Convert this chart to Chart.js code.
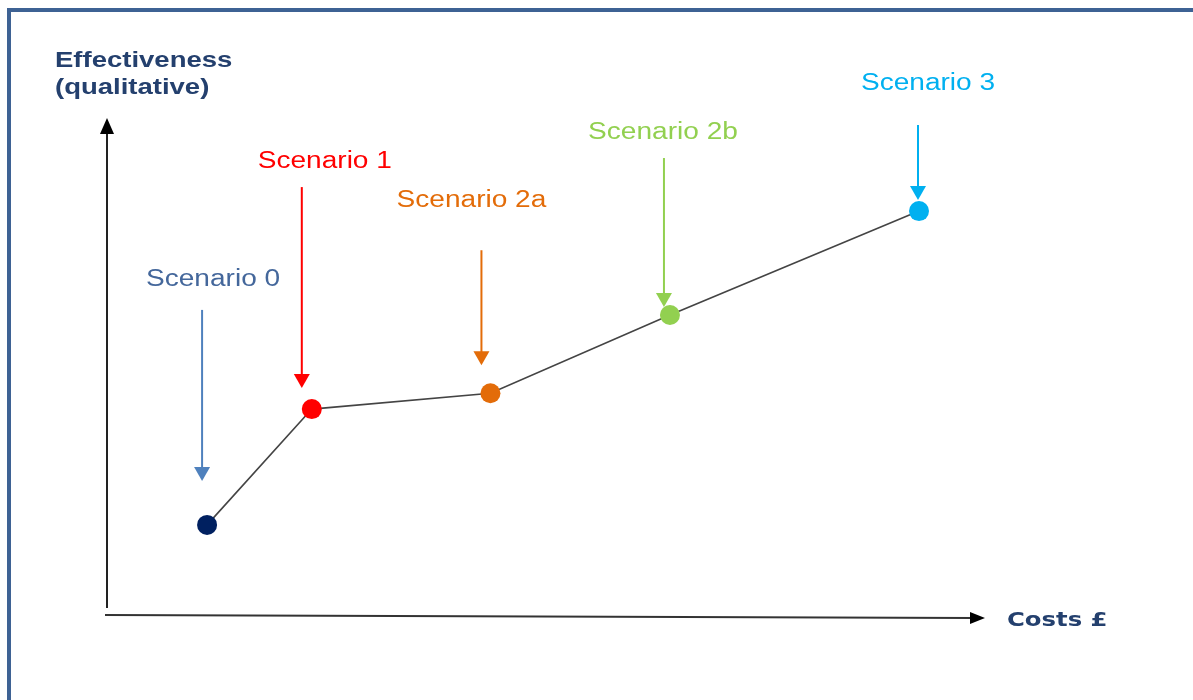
<!DOCTYPE html>
<html>
<head>
<meta charset="utf-8">
<title>Scenarios: effectiveness vs costs</title>
<script src="https://cdn.jsdelivr.net/npm/chart.js@4.4.0/dist/chart.umd.min.js"></script>
<style>
  html, body { margin: 0; padding: 0; background: #fff; }
  #wrap { width: 1193px; height: 700px; position: relative; }
</style>
</head>
<body>
<div id="wrap"><canvas id="chart"></canvas></div>
<script>
// scenarios (qualitative scale, 0-100 on both axes)
const scenarios = ['Scenario 0', 'Scenario 1', 'Scenario 2a', 'Scenario 2b', 'Scenario 3'];
const costs = [11.6, 23.5, 43.8, 64.2, 92.5];
const effectiveness = [18.2, 41.6, 44.8, 60.6, 81.6];
const pointColors = ['#002060', '#ff0000', '#e36c09', '#92d050', '#00b0f0'];
const labelColors = ['#44679b', '#ff0000', '#e36c09', '#92d050', '#00b0f0'];
const arrowColors = ['#4f81bd', '#ff0000', '#e36c09', '#92d050', '#00b0f0'];

// callout placement, px relative to each point
const callouts = [
    { dx: -5,  top: -215, tip: -44, lx: 6,   ly: -245 },
    { dx: -10, top: -222, tip: -21, lx: 13,  ly: -247 },
    { dx: -9,  top: -143, tip: -28, lx: -19, ly: -193 },
    { dx: -6,  top: -157, tip: -8,  lx: -7,  ly: -182 },
    { dx: -1,  top: -86,  tip: -11, lx: 9,   ly: -127 }
];

const TITLE_COLOR = '#24406e';

// text looks slightly wide, draw with a horizontal stretch
function stretchText(ctx, text, x, y, font, color, sx, align) {
    ctx.save();
    ctx.font = font;
    ctx.fillStyle = color;
    ctx.textAlign = align || 'center';
    ctx.textBaseline = 'middle';
    ctx.translate(x, y);
    ctx.scale(sx, 1);
    ctx.fillText(text, 0, 0);
    ctx.restore();
}

function arrowDown(ctx, x, y1, y2, color) {
    ctx.save();
    ctx.strokeStyle = color;
    ctx.fillStyle = color;
    ctx.lineWidth = 2;
    ctx.beginPath();
    ctx.moveTo(x, y1);
    ctx.lineTo(x, y2 - 12);
    ctx.stroke();
    ctx.beginPath();
    ctx.moveTo(x - 8, y2 - 14);
    ctx.lineTo(x + 8, y2 - 14);
    ctx.lineTo(x, y2);
    ctx.closePath();
    ctx.fill();
    ctx.restore();
}

const framePlugin = {
    id: 'frame',
    beforeDraw(chart) {
        const ctx = chart.ctx;
        ctx.save();
        ctx.fillStyle = '#fff';
        ctx.fillRect(0, 0, chart.width, chart.height);
        ctx.strokeStyle = '#3e6294';
        ctx.lineWidth = 4;
        ctx.beginPath();
        ctx.moveTo(9, chart.height + 5);
        ctx.lineTo(9, 10);
        ctx.lineTo(chart.width + 5, 10);
        ctx.stroke();
        ctx.restore();
    }
};

const axesPlugin = {
    id: 'axesArrows',
    beforeDatasetsDraw(chart) {
        const ctx = chart.ctx;
        const a = chart.chartArea;
        ctx.save();
        ctx.strokeStyle = '#222';
        ctx.fillStyle = '#000';
        ctx.lineWidth = 2;
        // y axis
        ctx.beginPath();
        ctx.moveTo(a.left + 2, a.bottom - 7);
        ctx.lineTo(a.left + 2, a.top + 12);
        ctx.stroke();
        ctx.beginPath();
        ctx.moveTo(a.left - 5, a.top + 14);
        ctx.lineTo(a.left + 9, a.top + 14);
        ctx.lineTo(a.left + 2, a.top - 2);
        ctx.closePath();
        ctx.fill();
        // x axis
        ctx.strokeStyle = '#333';
        ctx.beginPath();
        ctx.moveTo(a.left, a.bottom);
        ctx.lineTo(a.right - 12, a.bottom + 3);
        ctx.stroke();
        ctx.beginPath();
        ctx.moveTo(a.right - 15, a.bottom - 3);
        ctx.lineTo(a.right - 15, a.bottom + 9);
        ctx.lineTo(a.right, a.bottom + 3);
        ctx.closePath();
        ctx.fill();
        ctx.restore();

        // axis titles
        stretchText(ctx, 'Effectiveness', 55, 61, 'bold 22px "Liberation Sans", Arial, sans-serif', TITLE_COLOR, 1.25, 'left');
        stretchText(ctx, '(qualitative)', 55, 88, 'bold 22px "Liberation Sans", Arial, sans-serif', TITLE_COLOR, 1.25, 'left');
        stretchText(ctx, 'Costs £', a.right + 22, a.bottom + 6, 'bold 19px "DejaVu Sans", Verdana, sans-serif', TITLE_COLOR, 1.28, 'left');
    },
    afterDatasetsDraw(chart) {
        const ctx = chart.ctx;
        const xs = chart.scales.x;
        const ys = chart.scales.y;
        scenarios.forEach((name, i) => {
            const px = xs.getPixelForValue(costs[i]);
            const py = ys.getPixelForValue(effectiveness[i]);
            const c = callouts[i];
            arrowDown(ctx, px + c.dx, py + c.top, py + c.tip, arrowColors[i]);
            stretchText(ctx, name, px + c.lx, py + c.ly, '23px "Liberation Sans", Arial, sans-serif', labelColors[i], 1.22);
        });
    }
};

const points = costs.map((c, i) => ({ x: c, y: effectiveness[i] }));

new Chart(document.getElementById('chart'), {
    type: 'scatter',
    data: {
        datasets: [{
            label: 'Scenarios',
            data: points,
            showLine: true,
            borderColor: '#444',
            borderWidth: 1.6,
            pointRadius: 10,
            pointHoverRadius: 10,
            pointBorderWidth: 0,
            pointBackgroundColor: pointColors
        }]
    },
    options: {
        responsive: true,
        maintainAspectRatio: false,
        animation: false,
        layout: { padding: { left: 105, right: 208, top: 120, bottom: 85 } },
        plugins: {
            legend: { display: false },
            tooltip: { enabled: false }
        },
        scales: {
            x: { type: 'linear', min: 0, max: 100, display: false },
            y: { type: 'linear', min: 0, max: 100, display: false }
        }
    },
    plugins: [framePlugin, axesPlugin]
});
</script>
</body>
</html>
